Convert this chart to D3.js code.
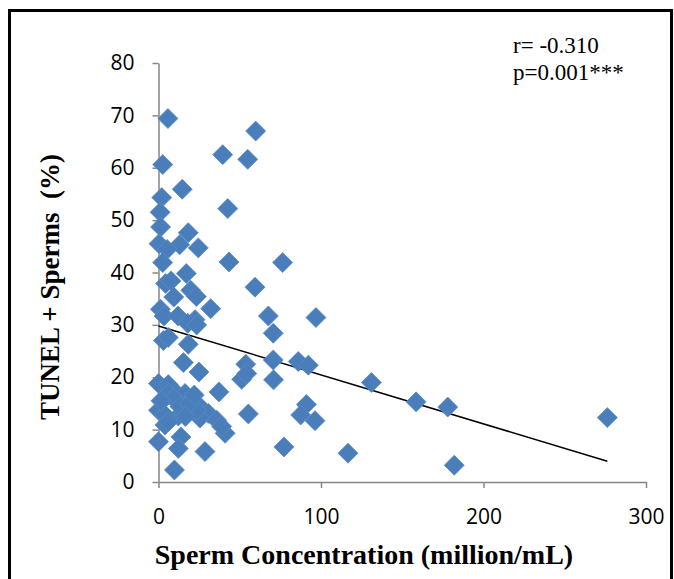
<!DOCTYPE html>
<html>
<head>
<meta charset="utf-8">
<script src="https://cdn.jsdelivr.net/npm/d3@7"></script>
<style>
  body { margin: 0; background: #fff; }
  svg { display: block; }
</style>
</head>
<body>
<svg></svg>
<script>
// sperm concentration (million/mL)
let concentration = [
  5.8, 59.8, 2.6, 39.5, 54.9, 14.6, 2.0, 42.6, 1.0, 1.3,
  18.3, 0.3, 13.0, 5.3, 24.5, 2.6, 43.4, 76.4, 17.1, 4.4,
  7.7, 59.4, 19.8, 9.4, 23.3, 32.1, 1.2, 67.6, 96.9, 3.4,
  12.0, 22.5, 18.0, 23.5, 70.6, 3.0, 6.0, 18.3, 15.3, 24.9,
  53.7, 51.2, 54.3, 70.6, 70.8, 86.0, 92.2, 131.0, 0.0, 6.0,
  11.2, 16.3, 20.4, 24.5, 37.2, 5.0, 0.0, 12.2, 30.7, 25.5,
  35.8, 41.0, 38.9, 55.3, 4.0, 13.8, 0.0, 12.2, 28.6, 9.8,
  4.0, 158.5, 178.0, 276.2, 116.6, 182.0, 96.3, 91.0, 87.5, 77.2,
  6.0, 9.1, 13.2, 23.5, 6.0, 19.0, 1.5, 22.0, 16.5
]
// TUNEL + sperms (%)
let tunel = [
  69.4, 67.0, 60.6, 62.5, 61.6, 55.9, 54.3, 52.2, 51.5, 48.7,
  47.6, 45.5, 45.3, 44.4, 44.7, 41.9, 42.0, 41.9, 39.8, 37.9,
  38.4, 37.2, 36.6, 35.3, 35.4, 33.1, 33.0, 31.7, 31.4, 31.7,
  31.7, 31.0, 30.3, 30.0, 28.4, 27.0, 27.6, 26.3, 22.8, 21.0,
  22.5, 19.6, 20.7, 23.3, 19.5, 23.0, 22.3, 19.0, 18.8, 18.6,
  16.9, 16.9, 15.6, 14.7, 17.2, 16.3, 13.7, 12.6, 13.1, 12.2,
  11.8, 9.3, 10.6, 13.0, 10.9, 8.6, 7.7, 6.4, 5.8, 2.3,
  12.8, 15.3, 14.3, 12.3, 5.5, 3.2, 11.7, 14.8, 12.8, 6.7,
  16.9, 16.0, 14.4, 13.7, 11.5, 15.0, 15.5, 16.6, 12.5
]

let xTicks = [0, 100, 200, 300]
let yTicks = [0, 10, 20, 30, 40, 50, 60, 70, 80]

// linear trend
let trendIntercept = 29.8
let trendSlope = -0.0935

let statLines = ['r= -0.310', 'p=0.001***']

let width = 674
let height = 579

let svg = d3.select('svg')
  .attr('width', width)
  .attr('height', height)

// outer frame
svg.append('rect')
  .attr('x', 9.5)
  .attr('y', 10.5)
  .attr('width', 662)
  .attr('height', 600)
  .attr('fill', 'none')
  .attr('stroke', '#000')
  .attr('stroke-width', 3)

let xScale = d3.scaleLinear().domain([0, 300]).range([158.5, 646])
let yScale = d3.scaleLinear().domain([0, 80]).range([482, 63])

let xAxis = d3.axisBottom(xScale).tickValues(xTicks).tickSize(6).tickSizeOuter(0).tickPadding(21)
let yAxis = d3.axisLeft(yScale).tickValues(yTicks).tickSize(6).tickSizeOuter(0).tickPadding(18)

let gx = svg.append('g')
  .attr('transform', `translate(0, ${yScale(0)})`)
  .call(xAxis)

let gy = svg.append('g')
  .attr('transform', `translate(${xScale(0)}, 0)`)
  .call(yAxis)

svg.selectAll('.domain, .tick line')
  .attr('stroke', '#868686')
  .attr('stroke-width', 1.5)

svg.selectAll('.tick text')
  .attr('fill', '#000')
  .style('font-family', '"Open Sans", "Noto Sans", sans-serif')
  .style('font-size', '21px')

// trend line
let xMax = d3.max(concentration)
svg.append('line')
  .attr('x1', xScale(0))
  .attr('y1', yScale(trendIntercept))
  .attr('x2', xScale(xMax))
  .attr('y2', yScale(trendIntercept + trendSlope * xMax))
  .attr('stroke', '#000')
  .attr('stroke-width', 1.5)

// diamonds
let pts = concentration.map((c, i) => [c, tunel[i]])
let diamond = 'M0,-10L10,0L0,10L-10,0Z'

svg.selectAll('path.pt')
  .data(pts)
  .enter()
  .append('path')
  .attr('class', 'pt')
  .attr('d', diamond)
  .attr('transform', (d) => `translate(${xScale(d[0])}, ${yScale(d[1])})`)
  .attr('fill', '#4A7EBB')
  .attr('stroke', '#5B8BC5')
  .attr('stroke-width', 0.8)

// r and p
svg.selectAll('text.stat')
  .data(statLines)
  .enter()
  .append('text')
  .attr('class', 'stat')
  .attr('x', 513)
  .attr('y', (d, i) => 53 + i * 27)
  .style('font-family', '"Liberation Serif", "Times New Roman", serif')
  .style('font-size', '23px')
  .text((d) => d)

// axis titles
svg.append('text')
  .attr('x', 364)
  .attr('y', 564)
  .attr('text-anchor', 'middle')
  .style('font-family', '"Liberation Serif", "Times New Roman", serif')
  .style('font-size', '28px')
  .style('font-weight', 'bold')
  .text('Sperm Concentration (million/mL)')

svg.append('text')
  .attr('transform', 'translate(59, 287) rotate(-90)')
  .attr('text-anchor', 'middle')
  .attr('xml:space', 'preserve')
  .style('font-family', '"Liberation Serif", "Times New Roman", serif')
  .style('font-size', '27px')
  .style('font-weight', 'bold')
  .style('white-space', 'pre')
  .text('TUNEL + Sperms  (%)')
</script>
</body>
</html>
